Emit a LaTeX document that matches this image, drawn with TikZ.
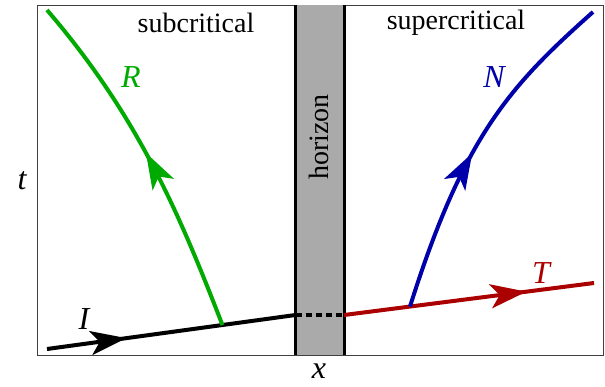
\documentclass[tikz,border=0pt]{standalone}
\usepackage{fontspec}
\setmainfont{Liberation Serif}
\usetikzlibrary{arrows.meta}
\usetikzlibrary{positioning}
\usetikzlibrary{calc}
\usetikzlibrary{decorations.markings}
\definecolor{refgreen}{RGB}{0,170,0}
\definecolor{refblue}{RGB}{0,0,170}
\definecolor{refred}{RGB}{170,0,0}
\definecolor{horgray}{RGB}{170,170,170}
\tikzstyle{every node}=[inner sep=0pt, font=\fontsize{14}{16}\selectfont]
\tikzstyle{ray}=[line width=2pt]
\tikzstyle{wall}=[line width=1.5pt, draw=black]
\tikzstyle{lbl}=[font=\fontsize{16}{18}\selectfont\itshape]
\tikzset{
  arrowat/.style={postaction={decorate}, decoration={markings,
      mark=at position #1 with {\arrow{Stealth[length=18pt, width=12pt, inset=4.5pt]}}}}
}

\begin{document}
\begin{tikzpicture}[x=0.5pt, y=-0.5pt]
    \useasboundingbox (0,0) rectangle (605,386);

    % frame
    \draw[black!75, line width=0.5pt] (37,5) rectangle (603,355);

    % horizon band
    \fill[horgray] (295.5,5) rectangle (344,355);
    \coordinate (hlt) at (295.5,5);
    \coordinate (hlb) at (295.5,355);
    \coordinate (hrt) at (344,5);
    \coordinate (hrb) at (344,355);
    \draw[wall] (hlt) -- (hlb);
    \draw[wall] (hrt) -- (hrb);
    \node[rotate=90] (hor) at (319,137) {horizon};

    % region labels
    \node (sub) at (196,23) {subcritical};
    \node (sup) at (456,23) {supercritical};
    \node[lbl] (tax) at (22,181) {t};
    \node[lbl] (xax) at (319,371) {x};

    % incoming ray I
    \coordinate (I0) at (47,349);
    \coordinate (Ih) at (295.5,315);
    \draw[ray, arrowat=0.32] (I0) -- (Ih);
    \node[lbl] (Ilab) at (84,319) {I};

    % dashed part inside the horizon
    \coordinate (Th) at (344,315);
    \draw[ray, dash pattern=on 3pt off 2pt] (Ih) -- (Th);

    % transmitted ray T
    \coordinate (T1) at (594,283);
    \draw[ray, refred, arrowat=0.73] (Th) -- (T1);
    \node[lbl, text=refred] (Tlab) at (541,273) {T};

    % reflected ray R
    \coordinate (R0) at ($(I0)!0.706!(Ih)$);
    \coordinate (R1) at (47,10);
    \draw[ray, refgreen, arrowat=0.52] (R0) .. controls (179,213) and (138,116) .. (R1);
    \node[lbl, text=refgreen] (Rlab) at (131,77) {R};

    % negative-norm ray N
    \coordinate (N0) at ($(Th)!0.264!(T1)$);
    \coordinate (N1) at (593,12);
    \draw[ray, refblue, arrowat=0.47] (N0) .. controls (464,135) and (511,85) .. (N1);
    \node[lbl, text=refblue] (Nlab) at (494,77) {N};

\end{tikzpicture}
\end{document}
